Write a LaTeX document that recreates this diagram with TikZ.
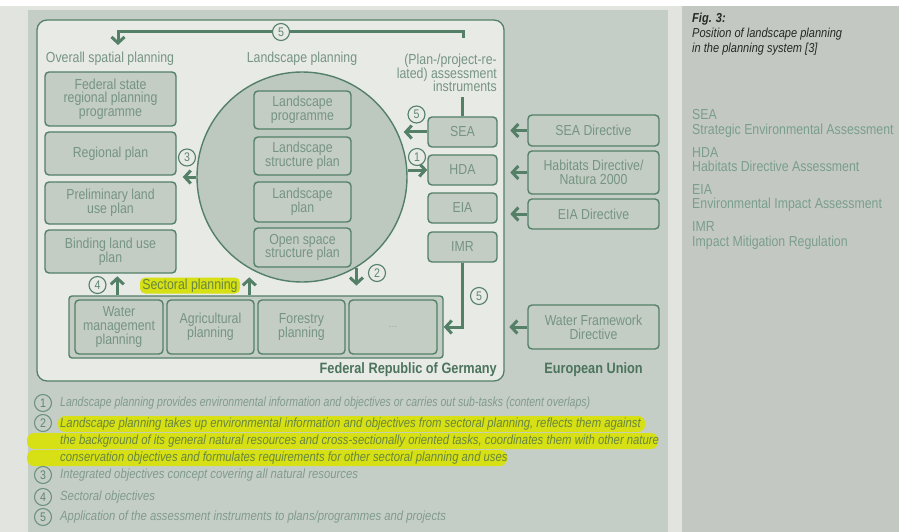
\documentclass[tikz,border=0pt]{standalone}
\usepackage{fontspec}
\usepackage{graphicx}
\setmainfont{Liberation Sans}[FakeStretch=0.85]
\usetikzlibrary{arrows.meta}

% palette
\definecolor{gline}{RGB}{84,128,104}
\definecolor{boxfill}{RGB}{195,205,196}
\definecolor{circfill}{RGB}{189,200,191}
\definecolor{innerbg}{RGB}{232,234,230}
\definecolor{panelbg}{RGB}{197,206,198}
\definecolor{rpanelbg}{RGB}{195,201,194}
\definecolor{outerbg}{RGB}{226,228,224}
\definecolor{txt}{RGB}{118,148,130}
\definecolor{numtxt}{RGB}{96,134,112}
\definecolor{legtxt}{RGB}{128,155,140}
\definecolor{abbrtxt}{RGB}{122,158,140}
\definecolor{capdark}{RGB}{38,40,38}
\definecolor{dgreen}{RGB}{76,116,93}
\definecolor{hl}{RGB}{214,224,20}
\definecolor{hltxt}{RGB}{104,134,62}

\newcommand\boxfont{\fontsize{14.5}{13.7}\selectfont}
\newcommand\legfont{\fontsize{13.3}{14}\selectfont\itshape}

\begin{document}
\begin{tikzpicture}[x=1pt,y=-1pt,
  wh/.style 2 args={minimum width=#1pt, minimum height=#2pt},
  box/.style={draw=gline, fill=boxfill, line width=1.4pt, rounded corners=4pt,
    text=txt, font=\boxfont, align=center, inner sep=0pt},
  grp/.style={draw=gline, fill=boxfill, line width=1.4pt, rounded corners=3pt, inner sep=0pt},
  lbl/.style={text=txt, font=\boxfont, inner sep=0pt},
  num/.style={circle, draw=gline, line width=1.1pt, fill=innerbg, text=numtxt,
    font=\fontsize{12.5}{12.5}\selectfont, inner sep=0pt, minimum size=17pt},
  legnum/.style={circle, draw=gline!85, line width=1.1pt, text=numtxt,
    font=\fontsize{12.5}{12.5}\selectfont, inner sep=0pt, minimum size=17pt},
  legline/.style={anchor=west, text=legtxt, font=\legfont, inner sep=0pt,
    text height=9.5pt, text depth=2.5pt},
  abbr/.style={anchor=west, text=abbrtxt, font=\boxfont, inner sep=0pt,
    text height=10pt, text depth=3pt},
  capline/.style={anchor=west, text=capdark, font=\fontsize{13}{14}\selectfont\itshape,
    inner sep=0pt, text height=9.5pt, text depth=2.5pt},
  ln/.style={draw=gline, line width=3pt},
  arr/.style={draw=gline, line width=3pt, -{Straight Barb[length=6pt,width=13pt]}}
]
\useasboundingbox (0,0) rectangle (899,532);

% background panels
\fill[white] (0,0) rectangle (899,532);
\fill[outerbg] (0,6) rectangle (899,532);
\fill[panelbg] (28,10) rectangle (668,532);
\fill[rpanelbg] (682,6) rectangle (899,532);

% national frame
\node[draw=gline, fill=innerbg, line width=1.3pt, rounded corners=10pt, wh={467}{361}] (frg) at (270.5,200.5) {};

% landscape planning circle
\node[circle, draw=gline, fill=circfill, line width=1.4pt, minimum size=210pt, inner sep=0pt] (lpc) at (302,177) {};

% overall spatial planning
\node[box, wh={131}{54}] (fsrp) at (110.5,99) {Federal state\\regional planning\\programme};
\node[box, wh={131}{43}] (rp) at (110.5,153.5) {Regional plan};
\node[box, wh={131}{42}] (plup) at (110.5,203) {Preliminary land\\use plan};
\node[box, wh={131}{43}] (blup) at (110.5,251.5) {Binding land use\\plan};

% landscape planning instruments
\node[box, wh={97}{38}] (lprog) at (302.5,110) {Landscape\\programme};
\node[box, wh={97}{38}] (lsp) at (302.5,156) {Landscape\\structure plan};
\node[box, wh={97}{40}] (lplan) at (302.5,202) {Landscape\\plan};
\node[box, wh={97}{39}] (ossp) at (302.5,247.5) {Open space\\structure plan};

% assessment instruments
\node[box, wh={69}{30}] (SEA) at (462.5,132) {SEA};
\node[box, wh={69}{30}] (HDA) at (462.5,170) {HDA};
\node[box, wh={69}{30}] (EIA) at (462.5,208) {EIA};
\node[box, wh={69}{30}] (IMR) at (462.5,247) {IMR};

% European directives
\node[box, wh={131}{31}] (SEAD) at (593.5,130.5) {SEA Directive};
\node[box, wh={131}{43}] (HABD) at (593.5,172.5) {Habitats Directive/\\Natura 2000};
\node[box, wh={131}{30}] (EIAD) at (593.5,214) {EIA Directive};
\node[box, wh={131}{44}] (WFD) at (593.5,327) {Water Framework\\Directive};

% sectoral planning
\node[grp, wh={374}{62}] (sect) at (256,327) {};
\node[box, wh={88}{54}] (wmp) at (119,327) {Water\\management\\planning};
\node[box, wh={87}{54}] (agri) at (210.5,327) {Agricultural\\planning};
\node[box, wh={87}{54}] (forest) at (301.5,327) {Forestry\\planning};
\node[box, wh={88}{54}, font=\fontsize{11}{11}\selectfont, text=txt!80] (more) at (393,327) {…};

% column headings
\node[lbl] (osp) at (110,59) {Overall spatial planning};
\node[lbl] (lpl) at (302,59) {Landscape planning};
\node[lbl, align=right, anchor=east] (ai) at (497,73) {(Plan-/project-re-\\lated) assessment\\instruments};
\node[fill=hl, rounded corners=5pt, text=hltxt, font=\boxfont, wh={100}{16}, inner sep=0pt] (sp) at (190,285.5) {Sectoral planning};

% connectors
\coordinate (topstart) at (463,38);
\coordinate (topcorner) at (118,32);
\coordinate (osptip) at (118,45);
\draw[arr] (topstart) |- (topcorner) -- (osptip);
\draw[ln] (SEA.north) -- ++(0,-19);
\draw[arr] (SEA.west) -- ([xshift=-4pt]lpc.east |- SEA.west);
\draw[arr] (lpc.east |- HDA.west) -- (HDA.west);
\draw[arr, shorten >=6pt] (lpc.west) -- (rp.east |- lpc.west);
\draw[arr] (lpc.-59.7) -- ++(0,18);
\draw[arr] (IMR.south) |- (sect.east);
\draw[arr] ([xshift=49pt]sect.north west) -- ++(0,-19);
\draw[arr] ([xshift=181pt]sect.north west) -- ++(0,-18);
\draw[arr] (SEAD.west) -- ++(-17,0);
\draw[arr] (HABD.west) -- ++(-17,0);
\draw[arr] (EIAD.west) -- ++(-17,0);
\draw[arr] (WFD.west) -- ++(-18,0);

% numbered markers
\node[num] (n5a) at (281,32) {5};
\node[num] (n5b) at (416.5,114.5) {5};
\node[num] (n1) at (417,157) {1};
\node[num] (n3) at (187,157.5) {3};
\node[num] (n2) at (377,273) {2};
\node[num] (n5c) at (479,296) {5};
\node[num] (n4) at (97.5,285) {4};

% frame titles
\node[anchor=east, text=dgreen, font=\fontsize{15}{15}\selectfont\bfseries, inner sep=0pt] (frgl) at (497,370) {Federal Republic of Germany};
\node[text=dgreen, font=\fontsize{15}{15}\selectfont\bfseries, inner sep=0pt] (eul) at (593.5,370) {European Union};

% key to the numbers
\fill[hl, rounded corners=7pt] (58,416) rectangle (645,432);
\fill[hl, rounded corners=7pt] (27,433) rectangle (658,449);
\fill[hl, rounded corners=7pt] (27,450) rectangle (507,466);
\node[legnum] (k1) at (43,403) {1};
\node[legnum] (k2) at (43,423) {2};
\node[legnum] (k3) at (43,475) {3};
\node[legnum] (k4) at (43,497) {4};
\node[legnum] (k5) at (43,517) {5};
\node[legline] (t1) at (60,403) {\scalebox{0.93}[1]{Landscape planning provides environmental information and objectives or carries out sub-tasks (content overlaps)}};
\node[legline, text=hltxt] (t2a) at (60,424) {Landscape planning takes up environmental information and objectives from sectoral planning, reflects them against};
\node[legline, text=hltxt] (t2b) at (60,441) {the background of its general natural resources and cross-sectionally oriented tasks, coordinates them with other nature};
\node[legline, text=hltxt] (t2c) at (60,458) {conservation objectives and formulates requirements for other sectoral planning and uses};
\node[legline] (t3) at (60,475) {Integrated objectives concept covering all natural resources};
\node[legline] (t4) at (60,497) {Sectoral objectives};
\node[legline] (t5) at (60,517) {Application of the assessment instruments to plans/programmes and projects};

% caption and abbreviations
\node[capline, font=\fontsize{13}{14}\selectfont\bfseries\itshape] (cap1) at (692,19) {Fig. 3:};
\node[capline] (cap2) at (692,34) {Position of landscape planning};
\node[capline] (cap3) at (692,49) {in the planning system [3]};
\node[abbr] (a1) at (692,116) {SEA};
\node[abbr] (a1t) at (692,131) {Strategic Environmental Assessment};
\node[abbr] (a2) at (692,154) {HDA};
\node[abbr] (a2t) at (692,168) {Habitats Directive Assessment};
\node[abbr] (a3) at (692,191) {EIA};
\node[abbr] (a3t) at (692,205) {Environmental Impact Assessment};
\node[abbr] (a4) at (692,228) {IMR};
\node[abbr] (a4t) at (692,243) {Impact Mitigation Regulation};
\end{tikzpicture}
\end{document}
